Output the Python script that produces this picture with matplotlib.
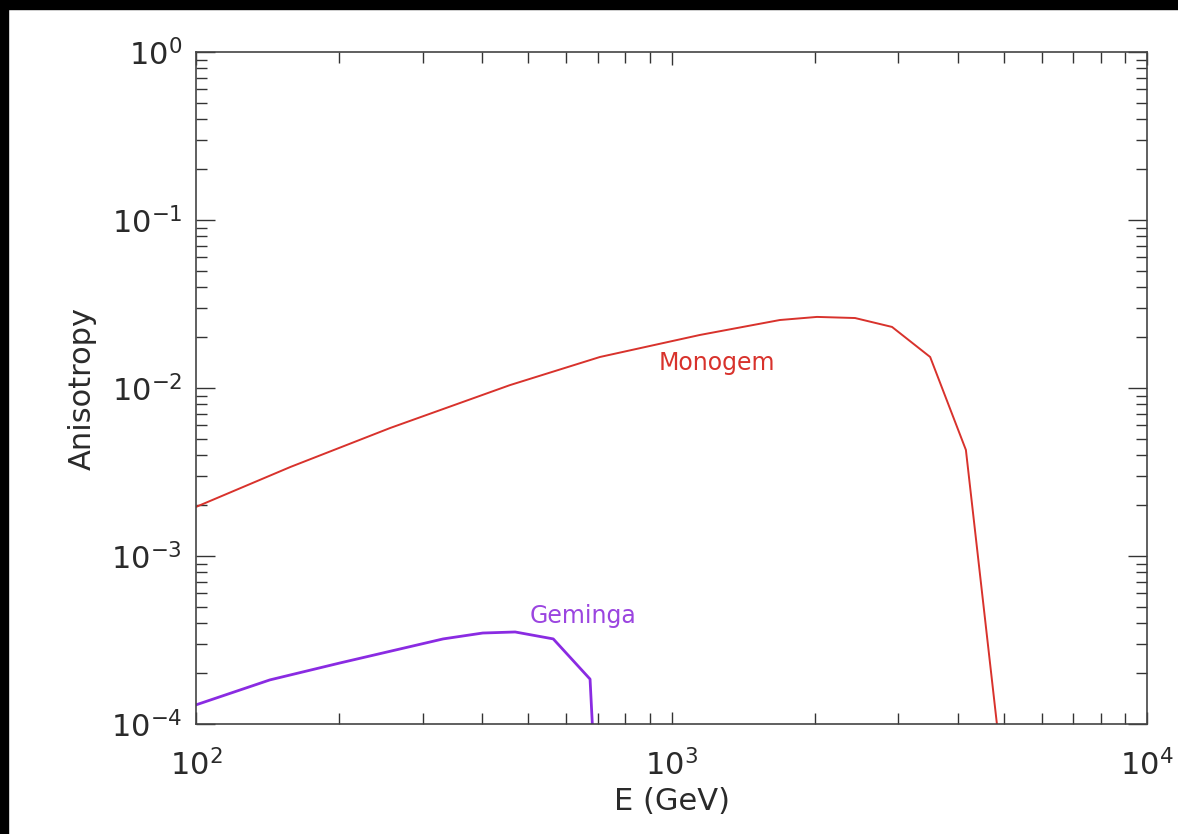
import numpy as np
import matplotlib
matplotlib.use('Agg')
import matplotlib.pyplot as plt
from matplotlib.patches import Rectangle
from matplotlib.ticker import LogLocator, FuncFormatter, NullFormatter

# anisotropy vs energy for the two nearby pulsars
e_monogem = [100, 158, 256, 457, 707, 1148, 1690, 2023, 2432, 2909, 3499, 4160, 5000]
a_monogem = [1.96e-3, 3.39e-3, 5.78e-3, 1.04e-2, 1.53e-2, 2.07e-2, 2.54e-2,
             2.65e-2, 2.61e-2, 2.31e-2, 1.53e-2, 4.28e-3, 4.3e-5]

e_geminga = [100, 143, 201, 331, 401, 469, 564, 674, 690]
a_geminga = [1.30e-4, 1.83e-4, 2.31e-4, 3.21e-4, 3.48e-4, 3.53e-4, 3.21e-4, 1.85e-4, 5e-5]

red = '#d8322c'
purple = '#8a2be2'

fig = plt.figure(figsize=(11.78, 8.34), dpi=100)
ax = fig.add_axes([0.1664, 0.1319, 0.8073, 0.8057])

ax.plot(e_monogem, a_monogem, color=red, lw=1.4)
ax.plot(e_geminga, a_geminga, color=purple, lw=2.0)

ax.set_xscale('log')
ax.set_yscale('log')
ax.set_xlim(1e2, 1e4)
ax.set_ylim(1e-4, 1e0)

ax.text(1247, 1.41e-2, 'Monogem', color=red, fontsize=17, ha='center', va='center')
ax.text(652, 4.4e-4, 'Geminga', color='#9b45e0', fontsize=17, ha='center', va='center')

fmt = FuncFormatter(lambda v, p: r'$10^{%d}$' % int(round(np.log10(v))))
for axis in (ax.xaxis, ax.yaxis):
    axis.set_major_locator(LogLocator(base=10, numticks=10))
    axis.set_minor_locator(LogLocator(base=10, subs=np.arange(2, 10), numticks=10))
    axis.set_major_formatter(fmt)
    axis.set_minor_formatter(NullFormatter())

ax.tick_params(which='both', direction='in', top=True, right=True, color='#333333', width=1.0)
ax.tick_params(which='major', length=14, labelsize=22, labelcolor='#2a2a2a')
ax.tick_params(which='minor', length=8)
ax.tick_params(axis='x', which='major', pad=18, length=9)
ax.tick_params(axis='y', which='major', pad=10)

for s in ax.spines.values():
    s.set_color('#444444')
    s.set_linewidth(1.2)

ax.set_xlabel('E (GeV)', fontsize=22, color='#2a2a2a', labelpad=4)
ax.set_ylabel('Anisotropy', fontsize=22, color='#2a2a2a', labelpad=10)

# dark frame strips along the top and left edges
fig.add_artist(Rectangle((0, 1 - 9 / 834), 1, 9 / 834, transform=fig.transFigure,
                         color='black', zorder=10))
fig.add_artist(Rectangle((0, 0), 8 / 1178, 1, transform=fig.transFigure,
                         color='black', zorder=10))

fig.savefig('out.png', dpi=100)
